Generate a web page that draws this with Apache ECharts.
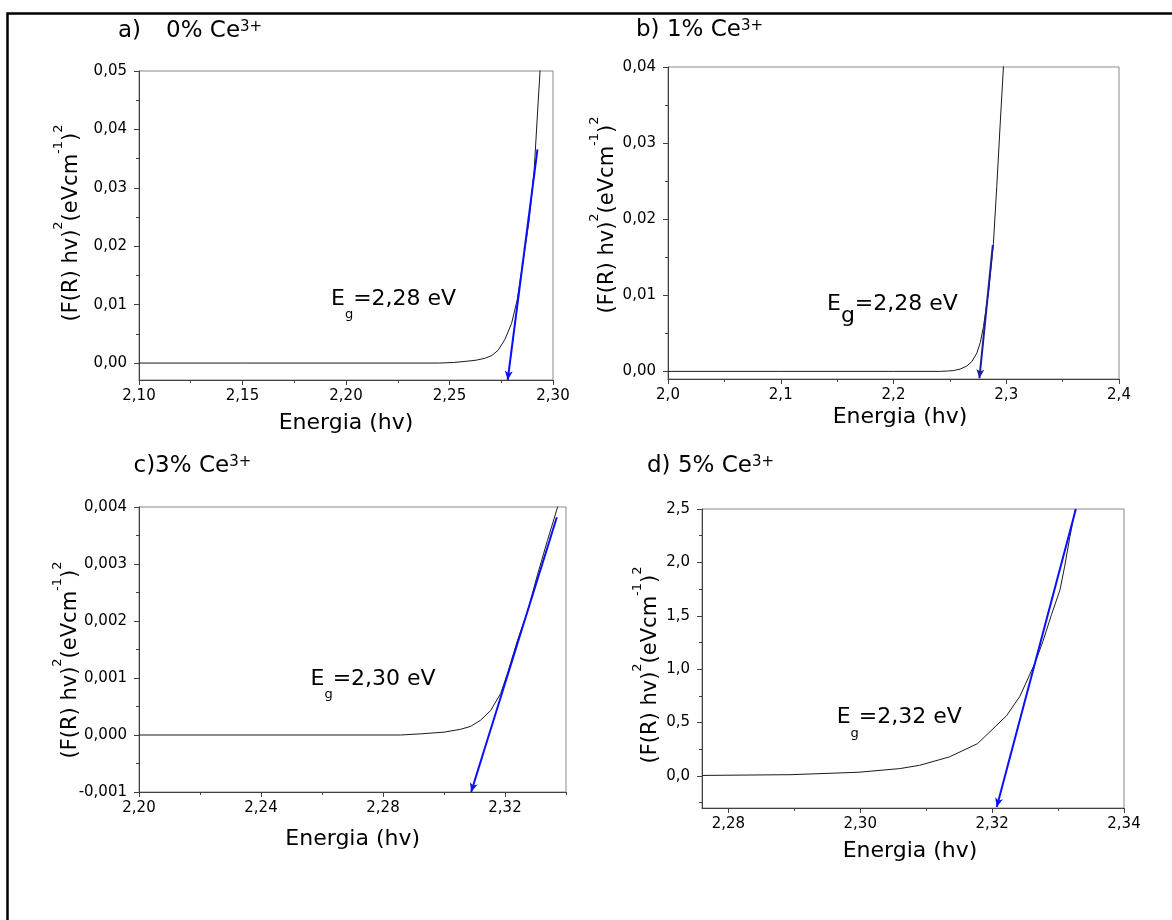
<!DOCTYPE html>
<html><head><meta charset="utf-8">
<script src="https://cdn.jsdelivr.net/npm/echarts@6/dist/echarts.min.js"></script>
<style>html,body{margin:0;padding:0;background:#fff}#c{width:1172px;height:920px}</style>
</head><body><div id="c"></div>
<script>
// ---------- data ----------
// a) 0% Ce3+
const aEnergy = [2.100, 2.150, 2.200, 2.245, 2.252, 2.258, 2.263, 2.267, 2.2705, 2.2735, 2.2767, 2.2800, 2.2827, 2.2856, 2.2885, 2.2909, 2.2928, 2.2940];
const aValue  = [0, 0, 0, 0, 0.0001, 0.0003, 0.0005, 0.0008, 0.0013, 0.0022, 0.0040, 0.0068, 0.0108, 0.0176, 0.0245, 0.0330, 0.0445, 0.0515];
const aFitX = [2.2925, 2.2781];
const aFitY = [0.0366, -0.0029];
const aXLabels = [2.10, 2.15, 2.20, 2.25, 2.30];
const aXMinor  = [2.125, 2.175, 2.225, 2.275];
const aYLabels = [0, 0.01, 0.02, 0.03, 0.04, 0.05];
const aYMinor  = [0.005, 0.015, 0.025, 0.035, 0.045];

// b) 1% Ce3+
const bEnergy = [2.00, 2.10, 2.20, 2.241, 2.248, 2.253, 2.259, 2.265, 2.2695, 2.2739, 2.2770, 2.2798, 2.2842, 2.2886, 2.2916, 2.2945, 2.2975, 2.2985];
const bValue  = [0, 0, 0, 0, 0.00005, 0.0001, 0.0003, 0.0007, 0.0013, 0.0024, 0.0038, 0.0059, 0.0103, 0.0168, 0.0243, 0.0322, 0.0400, 0.0430];
const bFitX = [2.2881, 2.2762];
const bFitY = [0.0166, -0.0009];
const bXLabels = [2.0, 2.1, 2.2, 2.3, 2.4];
const bXMinor  = [2.05, 2.15, 2.25, 2.35];
const bYLabels = [0, 0.01, 0.02, 0.03, 0.04];
const bYMinor  = [0.005, 0.015, 0.025, 0.035];

// c) 3% Ce3+
const cEnergy = [2.20, 2.24, 2.2857, 2.2923, 2.3000, 2.3054, 2.3087, 2.3120, 2.3153, 2.3186, 2.3208, 2.3241, 2.3274, 2.3307, 2.3339, 2.3372, 2.3380];
const cValue  = [0, 0, 0, 0.00002, 0.00005, 0.0001, 0.00015, 0.00026, 0.00043, 0.00073, 0.00108, 0.00166, 0.00217, 0.00282, 0.00341, 0.00399, 0.0041];
const cFitX = [2.3370, 2.3089];
const cFitY = [0.00382, -0.00100];
const cXLabels = [2.20, 2.24, 2.28, 2.32];
const cXMinor  = [2.22, 2.26, 2.30, 2.34];
const cYLabels = [-0.001, 0, 0.001, 0.002, 0.003, 0.004];
const cYMinor  = [-0.0005, 0.0005, 0.0015, 0.0025, 0.0035];

// d) 5% Ce3+
const dEnergy = [2.2760, 2.2895, 2.2998, 2.3060, 2.3090, 2.3135, 2.3178, 2.3222, 2.3242, 2.3265, 2.3277, 2.3290, 2.3303, 2.3310, 2.3318, 2.3326];
const dValue  = [0.005, 0.012, 0.035, 0.069, 0.100, 0.178, 0.303, 0.565, 0.745, 1.058, 1.260, 1.510, 1.744, 1.963, 2.243, 2.495];
const dFitX = [2.3327, 2.3207];
const dFitY = [2.500, -0.29];
const dXLabels = [2.28, 2.30, 2.32, 2.34];
const dXMinor  = [2.29, 2.31, 2.33];
const dYLabels = [0, 0.5, 1.0, 1.5, 2.0, 2.5];
const dYMinor  = [-0.25, 0.25, 0.75, 1.25, 1.75, 2.25];

const titles = ['a)', 'b) 1% Ce', 'c)3% Ce', 'd) 5% Ce'];
const egLabels = ['=2,28 eV', '=2,28 eV', '=2,30 eV', '=2,32 eV'];
const xTitle = 'Energia (hv)';

// ---------- chart ----------
const FONT = 'DejaVu Sans';
const AX = '#404040';
const fmt = d => v => v.toFixed(d).replace('.', ',');

const panels = [
  {x:aEnergy, y:aValue, fx:aFitX, fy:aFitY, xr:[2.10,2.30], yr:[-0.0029,0.05], xl:aXLabels, xm:aXMinor, yl:aYLabels, ym:aYMinor, xd:2, yd:2,
   g:{left:139, top:71, width:414, height:309}, fit:'#0a10ff'},
  {x:bEnergy, y:bValue, fx:bFitX, fy:bFitY, xr:[2.0,2.4], yr:[-0.001,0.04], xl:bXLabels, xm:bXMinor, yl:bYLabels, ym:bYMinor, xd:1, yd:2,
   g:{left:668, top:67, width:451, height:312}, fit:'#1c1c9c'},
  {x:cEnergy, y:cValue, fx:cFitX, fy:cFitY, xr:[2.20,2.34], yr:[-0.001,0.004], xl:cXLabels, xm:cXMinor, yl:cYLabels, ym:cYMinor, xd:2, yd:3,
   g:{left:139, top:507, width:427, height:285}, fit:'#0a10ff'},
  {x:dEnergy, y:dValue, fx:dFitX, fy:dFitY, xr:[2.276,2.34], yr:[-0.3,2.5], xl:dXLabels, xm:dXMinor, yl:dYLabels, ym:dYMinor, xd:2, yd:1,
   g:{left:702, top:509, width:422, height:299}, fit:'#0a10ff'}
];

const grid = [], xAxis = [], yAxis = [], series = [];
panels.forEach((p, i) => {
  grid.push(Object.assign({show:true, borderColor:'#8a8a8a', borderWidth:1, backgroundColor:'transparent'}, p.g));
  const labelStyle = {fontFamily:FONT, fontSize:15, color:'#000'};
  xAxis.push({type:'value', gridIndex:i, position:'bottom', min:p.xr[0], max:p.xr[1],
    axisLine:{show:true, onZero:false, lineStyle:{color:AX, width:1}},
    axisTick:{show:true, inside:false, length:5, customValues:p.xl, lineStyle:{color:AX}},
    axisLabel:Object.assign({customValues:p.xl, formatter:fmt(p.xd), margin:9}, labelStyle),
    splitLine:{show:false}});
  xAxis.push({type:'value', gridIndex:i, position:'bottom', min:p.xr[0], max:p.xr[1],
    axisLine:{show:false, onZero:false},
    axisTick:{show:true, inside:false, length:3, customValues:p.xm, lineStyle:{color:AX}},
    axisLabel:{show:false}, splitLine:{show:false}});
  yAxis.push({type:'value', gridIndex:i, position:'left', min:p.yr[0], max:p.yr[1],
    axisLine:{show:true, onZero:false, lineStyle:{color:AX, width:1}},
    axisTick:{show:true, inside:false, length:5, customValues:p.yl, lineStyle:{color:AX}},
    axisLabel:Object.assign({customValues:p.yl, formatter:fmt(p.yd), margin:12}, labelStyle),
    splitLine:{show:false}});
  yAxis.push({type:'value', gridIndex:i, position:'left', min:p.yr[0], max:p.yr[1],
    axisLine:{show:false, onZero:false},
    axisTick:{show:true, inside:false, length:3, customValues:p.ym, lineStyle:{color:AX}},
    axisLabel:{show:false}, splitLine:{show:false}});
  series.push({type:'line', xAxisIndex:2*i, yAxisIndex:2*i,
    data:p.x.map((v, k) => [v, p.y[k]]),
    showSymbol:false, symbol:'none', smooth:false, clip:true, silent:true, animation:false,
    lineStyle:{color:'#1a1a1a', width:1},
    markLine:{silent:true, animation:false, symbol:['none','arrow'], symbolSize:[6,9],
      lineStyle:{color:p.fit, width:2, type:'solid'}, label:{show:false}, emphasis:{disabled:true},
      data:[[{coord:[p.fx[0], p.fy[0]]}, {coord:[p.fx[1], p.fy[1]]}]]}});
});

function txt(x, y, text, rich, align, vAlign, rotation) {
  return {type:'text', x:x, y:y, rotation:rotation || 0, silent:true, z:50,
    style:{text:text, rich:rich, align:align, textAlign:align, verticalAlign:vAlign, textVerticalAlign:vAlign,
      fontFamily:FONT, fontSize:21, fill:'#000'}};
}
const tok = (size, lh, va) => ({fontFamily:FONT, fontSize:size, lineHeight:lh, verticalAlign:va, fill:'#000', color:'#000'});

const titleRich = {m:tok(23, 28, 'top'), sup:tok(15, 16, 'top'), gap:{width:25, lineHeight:28, verticalAlign:'top'}};
const yRich = {m:tok(21, 30, 'bottom'), s:tok(13, 13, 'top')};
const xRich = {m:tok(22, 26, 'middle')};
const egRich = {m:tok(22, 26, 'top'), sub:tok(13, 33, 'bottom'), gb:tok(22, 34, 'bottom')};
const yTitleText = '{m|(F(R) hv)}{s|2}{m|(eVcm}{s|-1}{m|)}{s|2}';

const graphic = [
  {type:'rect', shape:{x:7.5, y:13.5, width:1200, height:1000}, style:{fill:'none', stroke:'#000', lineWidth:2.5}, silent:true, z:60},
  txt(118, 19.5, '{m|' + titles[0] + '}{gap| }{m|0% Ce}{sup|3+}', titleRich, 'left', 'top'),
  txt(636, 18.2, '{m|' + titles[1] + '}{sup|3+}', titleRich, 'left', 'top'),
  txt(133.5, 454.8, '{m|' + titles[2] + '}{sup|3+}', titleRich, 'left', 'top'),
  txt(647, 454.8, '{m|' + titles[3] + '}{sup|3+}', titleRich, 'left', 'top'),
  txt(67, 223, yTitleText, yRich, 'center', 'middle', Math.PI/2),
  txt(603.5, 215, yTitleText, yRich, 'center', 'middle', Math.PI/2),
  txt(66, 660, yTitleText, yRich, 'center', 'middle', Math.PI/2),
  txt(646, 665, yTitleText, yRich, 'center', 'middle', Math.PI/2),
  txt(346, 423, '{m|' + xTitle + '}', xRich, 'center', 'middle'),
  txt(900, 417.5, '{m|' + xTitle + '}', xRich, 'center', 'middle'),
  txt(352.7, 839, '{m|' + xTitle + '}', xRich, 'center', 'middle'),
  txt(910, 851.7, '{m|' + xTitle + '}', xRich, 'center', 'middle'),
  txt(331, 288, '{m|E}{sub|g}{m|' + egLabels[0] + '}', egRich, 'left', 'top'),
  txt(827, 293, '{m|E}{gb|g}{m|' + egLabels[1] + '}', egRich, 'left', 'top'),
  txt(310.5, 668, '{m|E}{sub|g}{m|' + egLabels[2] + '}', egRich, 'left', 'top'),
  txt(836.7, 706.7, '{m|E}{sub|g}{m|' + egLabels[3] + '}', egRich, 'left', 'top')
];

const chart = echarts.init(document.getElementById('c'), null, {renderer:'canvas', width:1172, height:920});
chart.setOption({animation:false, backgroundColor:'#fff', grid, xAxis, yAxis, series, graphic});
</script></body></html>
